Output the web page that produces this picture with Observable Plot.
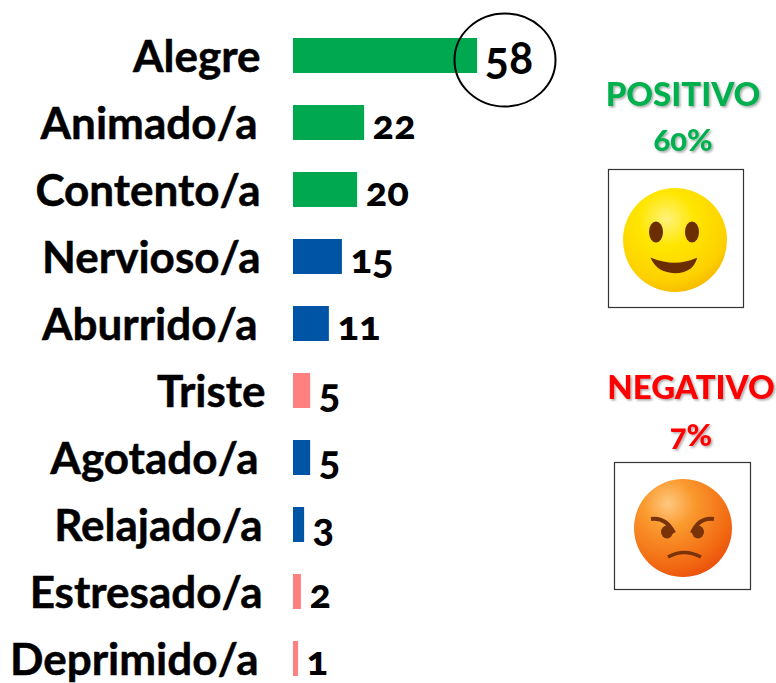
<!DOCTYPE html>
<html><head><meta charset="utf-8">
<script src="https://cdn.jsdelivr.net/npm/d3@7"></script>
<script src="https://cdn.jsdelivr.net/npm/@observablehq/plot@0.6"></script>
<style>
html,body{margin:0;padding:0;background:#fff}
#wrap{position:relative;width:776px;height:683px;overflow:hidden}
#wrap svg{position:absolute;left:0;top:0}
text{font-family:"Lato",sans-serif;font-variant-numeric:oldstyle-nums;font-feature-settings:"onum" 1}
</style></head><body><div id="wrap"></div>
<script>
const categories=["Alegre","Animado/a","Contento/a","Nervioso/a","Aburrido/a","Triste","Agotado/a","Relajado/a","Estresado/a","Deprimido/a"];
const labels=[58,22,20,15,11,5,5,3,2,1];
const shares=[58,22.4,20.2,15.4,11.3,5.4,5.4,3.5,2.5,1.6];
const groups=["pos","pos","pos","neu","neu","neg","neu","neu","neg","neg"];
const labelShift=[0,-3,0,0,-3,5,-2,2,2,-2];
const groupKeys=["pos","neu","neg"];
const groupColors=["#00A84F","#0054A6","#FF8080"];
const summaryNames=["POSITIVO","NEGATIVO"];
const summaryValues=["60%","7%"];
const summaryColors=["#00B050","#FF0000"];

const rows=categories.map((c,i)=>({c,label:labels[i],share:shares[i],group:groups[i],shift:labelShift[i]}));
const shifts=[...new Set(labelShift)];
const chart=Plot.plot({
  width:776,height:683,margin:0,
  x:{domain:[0,150],range:[293,293+150*3.175],axis:null},
  y:{domain:categories,range:[38,676],paddingInner:0.4776,paddingOuter:0,round:false,axis:null},
  color:{domain:groupKeys,range:groupColors},
  marks:[
    Plot.barX(rows,{x:"share",y:"c",fill:"group"}),
    Plot.text(rows.filter(d=>d.label!==58),{x:"share",y:"c",text:d=>String(d.label),textAnchor:"start",dx:8,dy:3,fontSize:40,fontWeight:900,fill:"#000"}),
    Plot.text(rows.filter(d=>d.label===58),{x:"share",y:"c",text:d=>String(d.label),textAnchor:"start",dx:7,dy:4,fontSize:45,fontWeight:700,fill:"#000"}),
    ...shifts.map(s=>Plot.text(rows.filter(d=>d.shift===s),{x:0,y:"c",text:"c",textAnchor:"end",dx:-33+s,dy:2,fontSize:44,fontWeight:700,fill:"#000",stroke:"#000",strokeWidth:0.5}))
  ]
});
document.getElementById("wrap").appendChild(chart);

const ns="http://www.w3.org/2000/svg";
const ov=d3.select("#wrap").append("svg").attr("xmlns",ns).attr("width",776).attr("height",683);
const defs=ov.append("defs");
defs.append("filter").attr("id","sh").attr("x","-10%").attr("y","-20%").attr("width","120%").attr("height","150%")
  .append("feDropShadow").attr("dx",1.5).attr("dy",1.5).attr("stdDeviation",1.2).attr("flood-color","#000").attr("flood-opacity",.35);
const yg=defs.append("radialGradient").attr("id","yg").attr("cx",.42).attr("cy",.3).attr("r",.75);
[[0,"#FFF27A"],[.35,"#FFE600"],[.8,"#FDD000"],[1,"#F5B400"]].forEach(([o,c])=>yg.append("stop").attr("offset",o).attr("stop-color",c));
const og=defs.append("radialGradient").attr("id","og").attr("cx",.35).attr("cy",.25).attr("r",.85);
[[0,"#FFC880"],[.3,"#FA9A2E"],[.75,"#F26A12"],[1,"#E8480A"]].forEach(([o,c])=>og.append("stop").attr("offset",o).attr("stop-color",c));

ov.append("ellipse").attr("cx",505).attr("cy",60).attr("rx",50.5).attr("ry",46.5).attr("fill","none").attr("stroke","#000").attr("stroke-width",2);

function head(i,x,y1,y2){
  ov.append("text").attr("x",x).attr("y",y1).attr("text-anchor","middle").attr("font-size",33).attr("font-weight",900).attr("fill",summaryColors[i]).attr("filter","url(#sh)").text(summaryNames[i]);
  ov.append("text").attr("x",x).attr("y",y2).attr("text-anchor","middle").attr("font-size",31).attr("font-weight",900).attr("fill",summaryColors[i]).attr("filter","url(#sh)").text(summaryValues[i]);
}
head(0,683,106,151);
head(1,691,399,446);

ov.append("rect").attr("x",608.5).attr("y",169.5).attr("width",135).attr("height",138).attr("fill","#fff").attr("stroke","#333").attr("stroke-width",1.2);
ov.append("circle").attr("cx",675).attr("cy",240).attr("r",52).attr("fill","url(#yg)");
const brown="#6B2E00";
ov.append("ellipse").attr("cx",656).attr("cy",232).attr("rx",7).attr("ry",10.5).attr("fill",brown);
ov.append("ellipse").attr("cx",692).attr("cy",232).attr("rx",7).attr("ry",10.5).attr("fill",brown);
ov.append("path").attr("d","M652 259 Q675 268 696 259 Q692 272 675 272.5 Q658 272 652 259Z").attr("fill",brown).attr("stroke",brown).attr("stroke-width",1.5);

ov.append("rect").attr("x",614.5).attr("y",462.5).attr("width",136).attr("height",127).attr("fill","#fff").attr("stroke","#333").attr("stroke-width",1.2);
ov.append("circle").attr("cx",683).attr("cy",528).attr("r",49).attr("fill","url(#og)");
const br2="#7A3208";
ov.append("path").attr("d","M651 519 Q666 517 674 533 M714 519 Q699 517 692 533").attr("fill","none").attr("stroke",br2).attr("stroke-width",4);
ov.append("ellipse").attr("cx",667).attr("cy",532).attr("rx",6).attr("ry",6.5).attr("fill",br2);
ov.append("ellipse").attr("cx",698).attr("cy",532).attr("rx",6).attr("ry",6.5).attr("fill",br2);
ov.append("path").attr("d","M668 557 Q684 548 701 557").attr("fill","none").attr("stroke",br2).attr("stroke-width",3.5);
</script></body></html>
